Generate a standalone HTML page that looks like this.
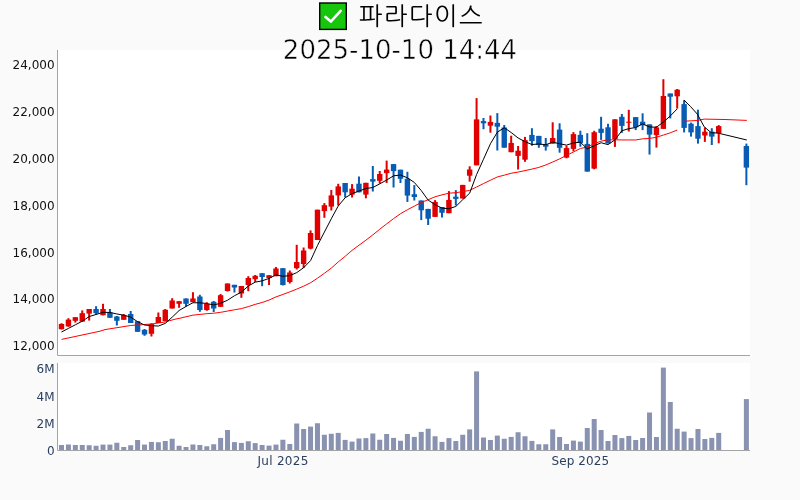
<!DOCTYPE html>
<html><head><meta charset="utf-8"><title>파라다이스</title>
<style>
html,body{margin:0;padding:0;background:#fafafa;width:800px;height:500px;overflow:hidden}
svg{will-change:transform}
.t{position:absolute;white-space:nowrap;color:#000;will-change:transform}
.ko{left:359px;top:2px;font-size:25px;letter-spacing:1.5px;line-height:30px;font-family:"DejaVu Sans","NanumGothic",sans-serif}
.dt{left:0;width:800px;text-align:center;top:35px;-webkit-text-stroke:0.5px #fcfcfc;font-size:26px;line-height:30px;font-family:"DejaVu Sans","Verdana",sans-serif}
.em{left:319px;top:2px;width:28px;height:28px;font-size:22px;line-height:28px;opacity:0;overflow:hidden}
</style></head><body>
<svg width="800" height="500" viewBox="0 0 800 500" style="position:absolute;left:0;top:0"><rect x="57.5" y="50" width="692.5" height="305" fill="#fff"/><rect x="57.5" y="363" width="692.5" height="87" fill="#fff"/><g clip-path="url(#cp)"><clipPath id="cp"><rect x="57.5" y="50" width="692.5" height="305"/></clipPath><g><rect x="60.50" y="323.20" width="2.0" height="6.30" fill="#e00000"/><rect x="58.80" y="324.00" width="5.4" height="5.20" fill="#e00000"/><rect x="67.42" y="318.20" width="2.0" height="8.60" fill="#e00000"/><rect x="65.72" y="319.60" width="5.4" height="6.80" fill="#e00000"/><rect x="74.34" y="317.20" width="2.0" height="5.40" fill="#e00000"/><rect x="72.64" y="317.20" width="5.4" height="3.60" fill="#e00000"/><rect x="81.25" y="310.40" width="2.0" height="11.20" fill="#e00000"/><rect x="79.55" y="313.20" width="5.4" height="8.40" fill="#e00000"/><rect x="88.17" y="309.00" width="2.0" height="11.60" fill="#e00000"/><rect x="86.47" y="309.00" width="5.4" height="4.60" fill="#e00000"/><rect x="95.09" y="306.20" width="2.0" height="8.60" fill="#085cb4"/><rect x="93.39" y="309.00" width="5.4" height="4.20" fill="#085cb4"/><rect x="102.01" y="303.80" width="2.0" height="11.60" fill="#e00000"/><rect x="100.31" y="309.00" width="5.4" height="6.20" fill="#e00000"/><rect x="108.93" y="309.00" width="2.0" height="8.80" fill="#085cb4"/><rect x="107.23" y="312.50" width="5.4" height="5.30" fill="#085cb4"/><rect x="115.84" y="316.00" width="2.0" height="9.50" fill="#085cb4"/><rect x="114.14" y="316.50" width="5.4" height="4.30" fill="#085cb4"/><rect x="122.76" y="314.00" width="2.0" height="5.80" fill="#e00000"/><rect x="121.06" y="315.00" width="5.4" height="4.80" fill="#e00000"/><rect x="129.68" y="311.00" width="2.0" height="12.00" fill="#085cb4"/><rect x="127.98" y="314.00" width="5.4" height="9.00" fill="#085cb4"/><rect x="136.60" y="321.00" width="2.0" height="11.00" fill="#085cb4"/><rect x="134.90" y="321.20" width="5.4" height="10.60" fill="#085cb4"/><rect x="143.52" y="329.00" width="2.0" height="6.80" fill="#085cb4"/><rect x="141.82" y="329.80" width="5.4" height="4.70" fill="#085cb4"/><rect x="150.43" y="323.20" width="2.0" height="13.30" fill="#e00000"/><rect x="148.73" y="324.00" width="5.4" height="9.80" fill="#e00000"/><rect x="157.35" y="312.50" width="2.0" height="10.50" fill="#e00000"/><rect x="155.65" y="317.00" width="5.4" height="6.00" fill="#e00000"/><rect x="164.27" y="309.00" width="2.0" height="12.20" fill="#e00000"/><rect x="162.57" y="309.80" width="5.4" height="11.40" fill="#e00000"/><rect x="171.19" y="298.20" width="2.0" height="10.30" fill="#e00000"/><rect x="169.49" y="300.50" width="5.4" height="8.00" fill="#e00000"/><rect x="178.11" y="301.20" width="2.0" height="6.60" fill="#e00000"/><rect x="176.41" y="301.20" width="5.4" height="2.60" fill="#e00000"/><rect x="185.02" y="298.50" width="2.0" height="8.00" fill="#085cb4"/><rect x="183.32" y="298.50" width="5.4" height="5.30" fill="#085cb4"/><rect x="191.94" y="292.20" width="2.0" height="10.00" fill="#e00000"/><rect x="190.24" y="298.50" width="5.4" height="3.70" fill="#e00000"/><rect x="198.86" y="294.80" width="2.0" height="17.00" fill="#085cb4"/><rect x="197.16" y="296.50" width="5.4" height="13.50" fill="#085cb4"/><rect x="205.78" y="302.20" width="2.0" height="8.60" fill="#e00000"/><rect x="204.08" y="304.00" width="5.4" height="6.00" fill="#e00000"/><rect x="212.70" y="301.00" width="2.0" height="11.00" fill="#085cb4"/><rect x="211.00" y="301.80" width="5.4" height="6.70" fill="#085cb4"/><rect x="219.61" y="294.00" width="2.0" height="13.00" fill="#e00000"/><rect x="217.91" y="295.20" width="5.4" height="11.60" fill="#e00000"/><rect x="226.53" y="283.50" width="2.0" height="8.00" fill="#e00000"/><rect x="224.83" y="283.50" width="5.4" height="7.50" fill="#e00000"/><rect x="233.45" y="284.80" width="2.0" height="7.70" fill="#085cb4"/><rect x="231.75" y="284.80" width="5.4" height="2.70" fill="#085cb4"/><rect x="240.37" y="286.00" width="2.0" height="11.80" fill="#e00000"/><rect x="238.67" y="286.00" width="5.4" height="7.50" fill="#e00000"/><rect x="247.29" y="276.20" width="2.0" height="15.00" fill="#e00000"/><rect x="245.59" y="278.00" width="5.4" height="7.00" fill="#e00000"/><rect x="254.20" y="275.00" width="2.0" height="7.00" fill="#e00000"/><rect x="252.50" y="275.80" width="5.4" height="3.40" fill="#e00000"/><rect x="261.12" y="273.20" width="2.0" height="13.00" fill="#085cb4"/><rect x="259.42" y="273.20" width="5.4" height="3.80" fill="#085cb4"/><rect x="268.04" y="275.20" width="2.0" height="9.80" fill="#e00000"/><rect x="266.34" y="275.20" width="5.4" height="2.80" fill="#e00000"/><rect x="274.96" y="267.00" width="2.0" height="9.20" fill="#e00000"/><rect x="273.26" y="268.50" width="5.4" height="7.70" fill="#e00000"/><rect x="281.88" y="268.20" width="2.0" height="17.30" fill="#085cb4"/><rect x="280.18" y="268.20" width="5.4" height="16.80" fill="#085cb4"/><rect x="288.79" y="270.50" width="2.0" height="13.00" fill="#e00000"/><rect x="287.09" y="272.50" width="5.4" height="9.50" fill="#e00000"/><rect x="295.71" y="244.80" width="2.0" height="24.70" fill="#e00000"/><rect x="294.01" y="262.00" width="5.4" height="6.20" fill="#e00000"/><rect x="302.63" y="247.50" width="2.0" height="20.50" fill="#e00000"/><rect x="300.93" y="250.50" width="5.4" height="13.50" fill="#e00000"/><rect x="309.55" y="230.40" width="2.0" height="18.90" fill="#e00000"/><rect x="307.85" y="233.00" width="5.4" height="15.60" fill="#e00000"/><rect x="316.47" y="209.70" width="2.0" height="30.30" fill="#e00000"/><rect x="314.77" y="209.70" width="5.4" height="30.30" fill="#e00000"/><rect x="323.38" y="203.10" width="2.0" height="14.70" fill="#e00000"/><rect x="321.68" y="205.20" width="5.4" height="5.90" fill="#e00000"/><rect x="330.30" y="190.00" width="2.0" height="20.50" fill="#e00000"/><rect x="328.60" y="195.40" width="5.4" height="11.20" fill="#e00000"/><rect x="337.22" y="183.80" width="2.0" height="21.70" fill="#e00000"/><rect x="335.52" y="186.40" width="5.4" height="9.00" fill="#e00000"/><rect x="344.14" y="183.00" width="2.0" height="14.50" fill="#085cb4"/><rect x="342.44" y="183.00" width="5.4" height="9.30" fill="#085cb4"/><rect x="351.06" y="184.10" width="2.0" height="13.40" fill="#e00000"/><rect x="349.36" y="188.70" width="5.4" height="5.90" fill="#e00000"/><rect x="357.97" y="176.50" width="2.0" height="15.80" fill="#085cb4"/><rect x="356.27" y="183.70" width="5.4" height="8.60" fill="#085cb4"/><rect x="364.89" y="182.80" width="2.0" height="15.50" fill="#e00000"/><rect x="363.19" y="182.80" width="5.4" height="11.80" fill="#e00000"/><rect x="371.81" y="166.00" width="2.0" height="25.50" fill="#085cb4"/><rect x="370.11" y="179.10" width="5.4" height="2.50" fill="#085cb4"/><rect x="378.73" y="171.00" width="2.0" height="12.60" fill="#e00000"/><rect x="377.03" y="174.00" width="5.4" height="6.80" fill="#e00000"/><rect x="385.65" y="160.60" width="2.0" height="22.40" fill="#e00000"/><rect x="383.95" y="169.60" width="5.4" height="3.50" fill="#e00000"/><rect x="392.56" y="164.10" width="2.0" height="23.40" fill="#085cb4"/><rect x="390.86" y="164.10" width="5.4" height="7.00" fill="#085cb4"/><rect x="399.48" y="169.70" width="2.0" height="13.30" fill="#085cb4"/><rect x="397.78" y="169.70" width="5.4" height="9.10" fill="#085cb4"/><rect x="406.40" y="171.80" width="2.0" height="30.10" fill="#085cb4"/><rect x="404.70" y="178.80" width="5.4" height="16.80" fill="#085cb4"/><rect x="413.32" y="185.10" width="2.0" height="15.40" fill="#085cb4"/><rect x="411.62" y="194.20" width="5.4" height="2.80" fill="#085cb4"/><rect x="420.24" y="200.50" width="2.0" height="19.60" fill="#085cb4"/><rect x="418.54" y="200.50" width="5.4" height="9.80" fill="#085cb4"/><rect x="427.15" y="208.90" width="2.0" height="16.10" fill="#085cb4"/><rect x="425.45" y="208.90" width="5.4" height="9.80" fill="#085cb4"/><rect x="434.07" y="200.10" width="2.0" height="16.80" fill="#e00000"/><rect x="432.37" y="201.90" width="5.4" height="15.00" fill="#e00000"/><rect x="440.99" y="207.00" width="2.0" height="10.50" fill="#085cb4"/><rect x="439.29" y="207.00" width="5.4" height="5.80" fill="#085cb4"/><rect x="447.91" y="191.10" width="2.0" height="22.10" fill="#e00000"/><rect x="446.21" y="199.90" width="5.4" height="13.30" fill="#e00000"/><rect x="454.83" y="190.10" width="2.0" height="15.40" fill="#085cb4"/><rect x="453.13" y="196.70" width="5.4" height="2.20" fill="#085cb4"/><rect x="461.74" y="184.90" width="2.0" height="13.60" fill="#e00000"/><rect x="460.04" y="184.90" width="5.4" height="13.60" fill="#e00000"/><rect x="468.66" y="166.30" width="2.0" height="15.40" fill="#e00000"/><rect x="466.96" y="169.50" width="5.4" height="6.20" fill="#e00000"/><rect x="475.58" y="98.10" width="2.0" height="67.20" fill="#e00000"/><rect x="473.88" y="119.40" width="5.4" height="45.90" fill="#e00000"/><rect x="482.50" y="118.00" width="2.0" height="11.20" fill="#085cb4"/><rect x="480.80" y="121.10" width="5.4" height="2.20" fill="#085cb4"/><rect x="489.42" y="115.50" width="2.0" height="17.20" fill="#e00000"/><rect x="487.72" y="121.90" width="5.4" height="3.80" fill="#e00000"/><rect x="496.33" y="113.10" width="2.0" height="37.40" fill="#085cb4"/><rect x="494.63" y="122.90" width="5.4" height="3.80" fill="#085cb4"/><rect x="503.25" y="125.00" width="2.0" height="22.70" fill="#085cb4"/><rect x="501.55" y="127.50" width="5.4" height="20.20" fill="#085cb4"/><rect x="510.17" y="135.70" width="2.0" height="16.50" fill="#e00000"/><rect x="508.47" y="142.90" width="5.4" height="9.30" fill="#e00000"/><rect x="517.09" y="146.00" width="2.0" height="23.50" fill="#e00000"/><rect x="515.39" y="150.70" width="5.4" height="5.20" fill="#e00000"/><rect x="524.01" y="136.90" width="2.0" height="24.90" fill="#e00000"/><rect x="522.31" y="140.10" width="5.4" height="19.60" fill="#e00000"/><rect x="530.92" y="128.20" width="2.0" height="17.50" fill="#085cb4"/><rect x="529.22" y="134.90" width="5.4" height="6.20" fill="#085cb4"/><rect x="537.84" y="135.90" width="2.0" height="11.90" fill="#085cb4"/><rect x="536.14" y="135.90" width="5.4" height="9.10" fill="#085cb4"/><rect x="544.76" y="138.00" width="2.0" height="12.60" fill="#085cb4"/><rect x="543.06" y="144.30" width="5.4" height="2.40" fill="#085cb4"/><rect x="551.68" y="122.30" width="2.0" height="21.30" fill="#e00000"/><rect x="549.98" y="138.00" width="5.4" height="5.60" fill="#e00000"/><rect x="558.60" y="123.30" width="2.0" height="29.40" fill="#085cb4"/><rect x="556.90" y="129.60" width="5.4" height="18.20" fill="#085cb4"/><rect x="565.51" y="145.70" width="2.0" height="12.60" fill="#e00000"/><rect x="563.81" y="148.10" width="5.4" height="9.50" fill="#e00000"/><rect x="572.43" y="132.10" width="2.0" height="19.20" fill="#e00000"/><rect x="570.73" y="134.10" width="5.4" height="14.80" fill="#e00000"/><rect x="579.35" y="130.70" width="2.0" height="16.00" fill="#085cb4"/><rect x="577.65" y="134.90" width="5.4" height="8.00" fill="#085cb4"/><rect x="586.27" y="133.20" width="2.0" height="38.40" fill="#085cb4"/><rect x="584.57" y="143.90" width="5.4" height="27.70" fill="#085cb4"/><rect x="593.19" y="130.80" width="2.0" height="38.50" fill="#e00000"/><rect x="591.49" y="132.20" width="5.4" height="36.40" fill="#e00000"/><rect x="600.10" y="116.80" width="2.0" height="23.10" fill="#085cb4"/><rect x="598.40" y="128.70" width="5.4" height="4.20" fill="#085cb4"/><rect x="607.02" y="123.80" width="2.0" height="19.60" fill="#085cb4"/><rect x="605.32" y="127.30" width="5.4" height="16.10" fill="#085cb4"/><rect x="613.94" y="119.30" width="2.0" height="27.60" fill="#e00000"/><rect x="612.24" y="119.30" width="5.4" height="19.90" fill="#e00000"/><rect x="620.86" y="114.00" width="2.0" height="18.90" fill="#085cb4"/><rect x="619.16" y="116.80" width="5.4" height="9.10" fill="#085cb4"/><rect x="627.78" y="109.80" width="2.0" height="21.70" fill="#e00000"/><rect x="626.08" y="121.70" width="5.4" height="1.00" fill="#e00000"/><rect x="634.69" y="117.10" width="2.0" height="13.00" fill="#085cb4"/><rect x="632.99" y="117.10" width="5.4" height="10.20" fill="#085cb4"/><rect x="641.61" y="113.30" width="2.0" height="16.80" fill="#085cb4"/><rect x="639.91" y="121.70" width="5.4" height="3.50" fill="#085cb4"/><rect x="648.53" y="124.40" width="2.0" height="30.20" fill="#085cb4"/><rect x="646.83" y="124.40" width="5.4" height="10.20" fill="#085cb4"/><rect x="655.45" y="126.00" width="2.0" height="21.60" fill="#e00000"/><rect x="653.75" y="127.40" width="5.4" height="7.70" fill="#e00000"/><rect x="662.37" y="79.20" width="2.0" height="49.70" fill="#e00000"/><rect x="660.67" y="96.00" width="5.4" height="32.90" fill="#e00000"/><rect x="669.28" y="93.50" width="2.0" height="24.90" fill="#085cb4"/><rect x="667.58" y="93.50" width="5.4" height="3.20" fill="#085cb4"/><rect x="676.20" y="89.00" width="2.0" height="19.60" fill="#e00000"/><rect x="674.50" y="89.70" width="5.4" height="6.60" fill="#e00000"/><rect x="683.12" y="100.20" width="2.0" height="32.20" fill="#085cb4"/><rect x="681.42" y="104.10" width="5.4" height="23.80" fill="#085cb4"/><rect x="690.04" y="122.60" width="2.0" height="14.00" fill="#085cb4"/><rect x="688.34" y="123.70" width="5.4" height="8.70" fill="#085cb4"/><rect x="696.96" y="109.70" width="2.0" height="33.90" fill="#085cb4"/><rect x="695.26" y="126.10" width="5.4" height="12.60" fill="#085cb4"/><rect x="703.87" y="127.50" width="2.0" height="14.40" fill="#e00000"/><rect x="702.17" y="131.70" width="5.4" height="3.80" fill="#e00000"/><rect x="710.79" y="128.20" width="2.0" height="16.80" fill="#085cb4"/><rect x="709.09" y="131.70" width="5.4" height="4.90" fill="#085cb4"/><rect x="717.71" y="125.10" width="2.0" height="18.20" fill="#e00000"/><rect x="716.01" y="126.10" width="5.4" height="7.00" fill="#e00000"/><rect x="745.38" y="143.60" width="2.0" height="41.60" fill="#085cb4"/><rect x="743.68" y="146.00" width="5.4" height="21.60" fill="#085cb4"/></g><path d="M61.60,339.40 L100.00,331.20 L105.00,329.60 L130.60,325.50 L151.40,324.00 L165.20,322.00 L175.00,319.20 L180.00,318.20 L192.94,315.14 L199.86,314.44 L206.78,313.67 L213.70,313.23 L220.61,312.33 L227.53,311.06 L234.45,309.77 L241.37,308.62 L248.29,306.63 L255.20,304.38 L262.12,302.48 L269.04,300.09 L275.96,296.93 L282.88,294.45 L289.79,291.88 L296.71,289.12 L303.63,286.16 L310.55,282.78 L317.47,278.21 L324.38,273.28 L331.30,268.12 L338.22,261.94 L345.14,256.36 L352.06,250.37 L358.97,245.22 L365.89,240.19 L372.81,234.89 L379.73,229.29 L386.65,223.88 L393.56,218.64 L400.48,213.73 L407.40,209.75 L414.32,206.18 L421.24,202.44 L428.15,199.75 L435.07,196.75 L441.99,194.86 L448.91,193.20 L455.83,192.67 L462.74,191.65 L469.66,190.35 L476.58,187.00 L483.50,183.56 L490.42,180.22 L497.33,176.94 L504.25,175.18 L511.17,173.25 L518.09,172.08 L525.01,170.60 L531.92,169.10 L538.84,167.42 L545.76,164.97 L552.68,162.02 L559.60,158.90 L566.51,155.37 L573.43,151.97 L580.35,148.48 L587.27,147.06 L594.19,143.73 L601.10,141.13 L608.02,139.82 L614.94,139.82 L621.86,139.95 L628.78,139.94 L635.69,139.97 L642.61,138.84 L649.53,138.43 L656.45,137.27 L663.37,135.06 L670.28,132.84 L677.20,130.07" fill="none" stroke="#ff0000" stroke-width="1.0"/><path d="M684.20,121.20 L697.40,120.50 L704.20,119.10 L725.00,119.50 L746.80,120.40" fill="none" stroke="#ff0000" stroke-width="1.0"/><path d="M61.50,332.00 L68.42,328.40 L75.34,324.80 L82.25,321.20 L89.17,316.60 L96.09,314.44 L103.01,312.32 L109.93,312.44 L116.84,313.96 L123.76,315.16 L130.68,317.12 L137.60,321.68 L144.52,325.02 L151.43,325.66 L158.35,326.06 L165.27,323.42 L172.19,317.16 L179.11,310.50 L186.02,306.46 L192.94,302.76 L199.86,302.80 L206.78,303.50 L213.70,304.96 L220.61,303.24 L227.53,300.24 L234.45,295.74 L241.37,292.14 L248.29,286.04 L255.20,282.16 L262.12,280.86 L269.04,278.40 L275.96,274.90 L282.88,276.30 L289.79,275.64 L296.71,272.64 L303.63,267.70 L310.55,260.60 L317.47,245.54 L324.38,232.08 L331.30,218.76 L338.22,205.94 L345.14,197.80 L352.06,193.60 L358.97,191.02 L365.89,188.50 L372.81,187.54 L379.73,183.88 L386.65,180.06 L393.56,175.82 L400.48,175.02 L407.40,177.82 L414.32,182.42 L421.24,190.56 L428.15,200.08 L435.07,204.70 L441.99,208.14 L448.91,208.72 L455.83,206.44 L462.74,199.68 L469.66,193.20 L476.58,174.52 L483.50,159.20 L490.42,143.80 L497.33,132.16 L504.25,127.80 L511.17,132.50 L518.09,137.98 L525.01,141.62 L531.92,144.50 L538.84,143.96 L545.76,144.72 L552.68,142.18 L559.60,143.72 L566.51,145.12 L573.43,142.94 L580.35,142.18 L587.27,148.90 L594.19,145.78 L601.10,142.74 L608.02,144.60 L614.94,139.88 L621.86,130.74 L628.78,128.64 L635.69,127.52 L642.61,123.88 L649.53,126.94 L656.45,127.24 L663.37,122.10 L670.28,115.98 L677.20,108.88" fill="none" stroke="#000" stroke-width="1.0"/><path d="M683.90,100.00 L690.50,106.50 L697.40,114.20 L704.20,126.80 L711.20,132.70 L718.10,133.10 L746.80,140.00" fill="none" stroke="#000" stroke-width="1.0"/></g><g fill="#8992b0"><rect x="59.00" y="445.00" width="5" height="5.00"/><rect x="65.92" y="444.50" width="5" height="5.50"/><rect x="72.84" y="445.00" width="5" height="5.00"/><rect x="79.75" y="445.00" width="5" height="5.00"/><rect x="86.67" y="445.25" width="5" height="4.75"/><rect x="93.59" y="445.75" width="5" height="4.25"/><rect x="100.51" y="444.60" width="5" height="5.40"/><rect x="107.43" y="444.60" width="5" height="5.40"/><rect x="114.34" y="442.75" width="5" height="7.25"/><rect x="121.26" y="447.00" width="5" height="3.00"/><rect x="128.18" y="445.25" width="5" height="4.75"/><rect x="135.10" y="440.00" width="5" height="10.00"/><rect x="142.02" y="444.60" width="5" height="5.40"/><rect x="148.93" y="441.90" width="5" height="8.10"/><rect x="155.85" y="442.25" width="5" height="7.75"/><rect x="162.77" y="441.00" width="5" height="9.00"/><rect x="169.69" y="438.75" width="5" height="11.25"/><rect x="176.61" y="445.75" width="5" height="4.25"/><rect x="183.52" y="447.00" width="5" height="3.00"/><rect x="190.44" y="444.50" width="5" height="5.50"/><rect x="197.36" y="445.00" width="5" height="5.00"/><rect x="204.28" y="446.25" width="5" height="3.75"/><rect x="211.20" y="444.25" width="5" height="5.75"/><rect x="218.11" y="437.90" width="5" height="12.10"/><rect x="225.03" y="430.00" width="5" height="20.00"/><rect x="231.95" y="442.10" width="5" height="7.90"/><rect x="238.87" y="442.90" width="5" height="7.10"/><rect x="245.79" y="441.25" width="5" height="8.75"/><rect x="252.70" y="443.10" width="5" height="6.90"/><rect x="259.62" y="445.00" width="5" height="5.00"/><rect x="266.54" y="445.60" width="5" height="4.40"/><rect x="273.46" y="444.60" width="5" height="5.40"/><rect x="280.38" y="439.75" width="5" height="10.25"/><rect x="287.29" y="444.00" width="5" height="6.00"/><rect x="294.21" y="423.50" width="5" height="26.50"/><rect x="301.13" y="429.00" width="5" height="21.00"/><rect x="308.05" y="426.60" width="5" height="23.40"/><rect x="314.97" y="423.25" width="5" height="26.75"/><rect x="321.88" y="434.75" width="5" height="15.25"/><rect x="328.80" y="433.75" width="5" height="16.25"/><rect x="335.72" y="432.90" width="5" height="17.10"/><rect x="342.64" y="439.90" width="5" height="10.10"/><rect x="349.56" y="441.60" width="5" height="8.40"/><rect x="356.47" y="438.50" width="5" height="11.50"/><rect x="363.39" y="438.10" width="5" height="11.90"/><rect x="370.31" y="433.50" width="5" height="16.50"/><rect x="377.23" y="439.75" width="5" height="10.25"/><rect x="384.15" y="434.00" width="5" height="16.00"/><rect x="391.06" y="437.90" width="5" height="12.10"/><rect x="397.98" y="440.75" width="5" height="9.25"/><rect x="404.90" y="434.00" width="5" height="16.00"/><rect x="411.82" y="436.90" width="5" height="13.10"/><rect x="418.74" y="431.90" width="5" height="18.10"/><rect x="425.65" y="428.75" width="5" height="21.25"/><rect x="432.57" y="436.25" width="5" height="13.75"/><rect x="439.49" y="441.90" width="5" height="8.10"/><rect x="446.41" y="438.10" width="5" height="11.90"/><rect x="453.33" y="441.00" width="5" height="9.00"/><rect x="460.24" y="434.75" width="5" height="15.25"/><rect x="467.16" y="429.40" width="5" height="20.60"/><rect x="474.08" y="371.40" width="5" height="78.60"/><rect x="481.00" y="437.50" width="5" height="12.50"/><rect x="487.92" y="440.00" width="5" height="10.00"/><rect x="494.83" y="435.60" width="5" height="14.40"/><rect x="501.75" y="438.75" width="5" height="11.25"/><rect x="508.67" y="436.90" width="5" height="13.10"/><rect x="515.59" y="432.25" width="5" height="17.75"/><rect x="522.51" y="436.25" width="5" height="13.75"/><rect x="529.42" y="440.90" width="5" height="9.10"/><rect x="536.34" y="444.25" width="5" height="5.75"/><rect x="543.26" y="444.25" width="5" height="5.75"/><rect x="550.18" y="429.40" width="5" height="20.60"/><rect x="557.10" y="437.00" width="5" height="13.00"/><rect x="564.01" y="444.00" width="5" height="6.00"/><rect x="570.93" y="440.60" width="5" height="9.40"/><rect x="577.85" y="441.60" width="5" height="8.40"/><rect x="584.77" y="428.00" width="5" height="22.00"/><rect x="591.69" y="419.00" width="5" height="31.00"/><rect x="598.60" y="430.00" width="5" height="20.00"/><rect x="605.52" y="441.00" width="5" height="9.00"/><rect x="612.44" y="435.00" width="5" height="15.00"/><rect x="619.36" y="438.10" width="5" height="11.90"/><rect x="626.28" y="435.90" width="5" height="14.10"/><rect x="633.19" y="440.00" width="5" height="10.00"/><rect x="640.11" y="438.00" width="5" height="12.00"/><rect x="647.03" y="412.50" width="5" height="37.50"/><rect x="653.95" y="437.00" width="5" height="13.00"/><rect x="660.87" y="367.60" width="5" height="82.40"/><rect x="667.78" y="402.00" width="5" height="48.00"/><rect x="674.70" y="428.75" width="5" height="21.25"/><rect x="681.62" y="431.60" width="5" height="18.40"/><rect x="688.54" y="438.10" width="5" height="11.90"/><rect x="695.46" y="429.00" width="5" height="21.00"/><rect x="702.37" y="439.00" width="5" height="11.00"/><rect x="709.29" y="437.90" width="5" height="12.10"/><rect x="716.21" y="432.90" width="5" height="17.10"/><rect x="743.88" y="399.10" width="5" height="50.90"/></g><g stroke="#a4a4a4" stroke-width="1" fill="none"><path d="M57.5,50 V355.5 H750"/><path d="M57.5,363 V450.5 H750"/></g><g font-family="DejaVu Sans, Verdana, sans-serif" font-size="12" fill="#111" text-anchor="end"><text x="54.6" y="69.10">24,000</text><text x="54.6" y="115.95">22,000</text><text x="54.6" y="162.85">20,000</text><text x="54.6" y="209.75">18,000</text><text x="54.6" y="256.60">16,000</text><text x="54.6" y="303.45">14,000</text><text x="54.6" y="350.35">12,000</text></g><g font-family="DejaVu Sans, Verdana, sans-serif" font-size="12" fill="#2a3f5f" text-anchor="end"><text x="54.6" y="455.35">0</text><text x="54.6" y="428.05">2M</text><text x="54.6" y="400.65">4M</text><text x="54.6" y="373.35">6M</text></g><g font-family="DejaVu Sans, Verdana, sans-serif" font-size="12" fill="#2a3f5f" text-anchor="middle"><text x="282.88" y="464.5" textLength="51" lengthAdjust="spacing">Jul 2025</text><text x="580.35" y="464.5" textLength="57.6" lengthAdjust="spacing">Sep 2025</text></g><g><rect x="319.7" y="3" width="26.6" height="26.4" fill="#16c60c" stroke="#000" stroke-width="1.4"/><path d="M325.5,17 L330.8,21.6 L340.6,10.8" fill="none" stroke="#fff" stroke-width="2.6" stroke-linecap="round" stroke-linejoin="round"/></g></svg>
<div class="t em">✅</div>
<div class="t ko">파라다이스</div>
<div class="t dt">2025-10-10 14:44</div>
</body></html>
